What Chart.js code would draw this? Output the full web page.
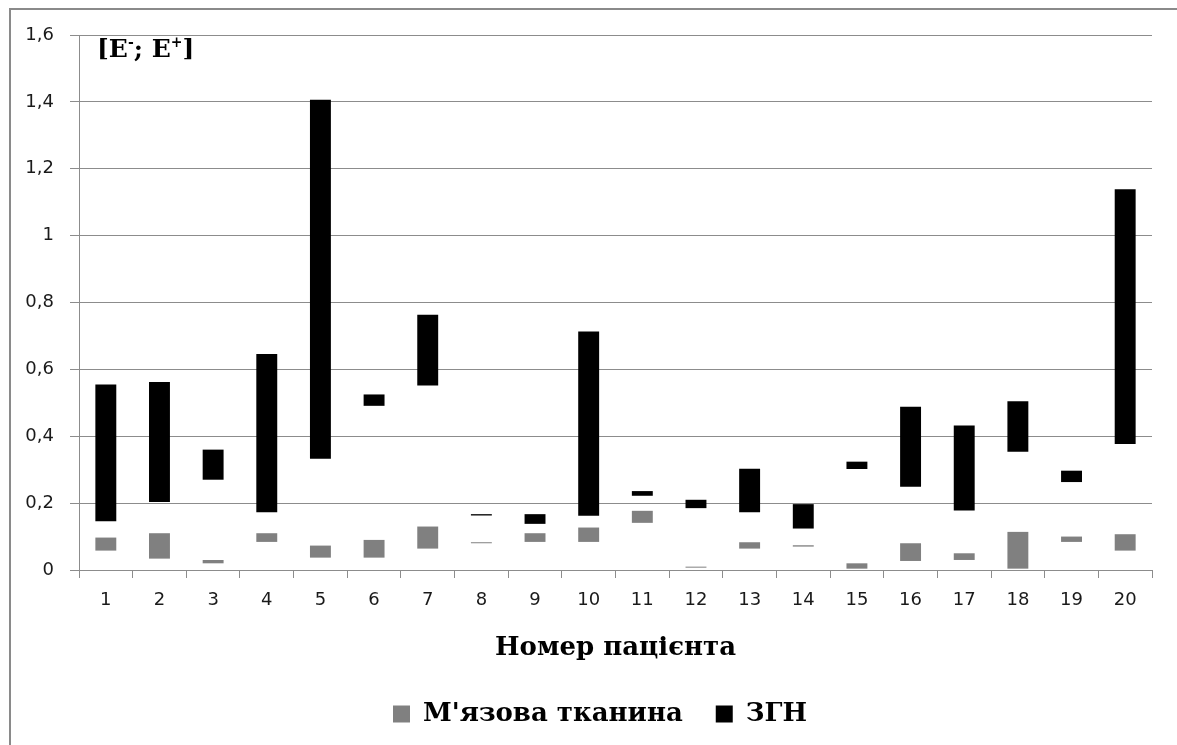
<!DOCTYPE html>
<html>
<head>
<meta charset="utf-8">
<script src="https://cdn.jsdelivr.net/npm/chart.js@4.4.1/dist/chart.umd.min.js"></script>
<style>
  html, body { margin: 0; padding: 0; background: #fff; }
  #wrap { position: relative; width: 1177px; height: 745px; overflow: hidden; }
  #frame { position: absolute; left: 9px; top: 8px; right: -10px; bottom: -10px; border-top: 2px solid #8a8a8a; border-left: 2px solid #8a8a8a; }
  canvas { position: absolute; left: 0; top: 0; }
</style>
</head>
<body>
<div id="wrap">
  <div id="frame"></div>
  <canvas id="chart" width="1177" height="745"></canvas>
</div>
<script>
// patient numbers
const patients = ['1','2','3','4','5','6','7','8','9','10','11','12','13','14','15','16','17','18','19','20'];

// М'язова тканина: [E-; E+]
const muscleLow  = [0.058, 0.034, 0.020, 0.084, 0.037, 0.037, 0.064, 0.080, 0.084, 0.084, 0.141, 0.007, 0.064, 0.070, 0.004, 0.027, 0.030, 0.004, 0.084, 0.058];
const muscleHigh = [0.097, 0.110, 0.030, 0.110, 0.073, 0.090, 0.130, 0.083, 0.110, 0.127, 0.177, 0.010, 0.083, 0.074, 0.020, 0.080, 0.050, 0.114, 0.100, 0.107];

// ЗГН: [E-; E+]
const zgnLow  = [0.146, 0.203, 0.270, 0.173, 0.333, 0.491, 0.552, 0.163, 0.138, 0.162, 0.222, 0.185, 0.173, 0.124, 0.302, 0.249, 0.178, 0.354, 0.263, 0.377];
const zgnHigh = [0.555, 0.562, 0.360, 0.646, 1.406, 0.525, 0.763, 0.167, 0.167, 0.713, 0.236, 0.210, 0.303, 0.197, 0.324, 0.488, 0.432, 0.505, 0.297, 1.139];

const yTicks = ['0', '0,2', '0,4', '0,6', '0,8', '1', '1,2', '1,4', '1,6'];

const GRID = '#8c8c8c';
const TICK_FONT = {family: "'DejaVu Sans', sans-serif", size: 18};
const SERIF_BOLD = {family: "'DejaVu Serif', serif", size: 26, weight: 'bold'};

// "[E-; E+]" label in the top-left corner of the plot
const rangeLabel = {
  id: 'rangeLabel',
  afterDraw(chart) {
    const ctx = chart.ctx;
    const big = "bold 25px 'DejaVu Serif', serif";
    const small = "bold 14px 'DejaVu Serif', serif";
    let x = 97, y = 57;
    ctx.save();
    ctx.fillStyle = '#000';
    ctx.textBaseline = 'alphabetic';
    ctx.textAlign = 'left';
    const parts = [['[E', big, 0], ['-', small, -10], ['; E', big, 0], ['+', small, -10], [']', big, 0]];
    parts.forEach(([t, f, dy]) => {
      ctx.font = f;
      ctx.fillText(t, x, y + dy);
      x += ctx.measureText(t).width;
    });
    ctx.restore();
  }
};

// nudge the legend to where it sits in the original
const legendShift = {
  id: 'legendShift',
  afterLayout(chart) {
    chart.legend.left += 24;
    chart.legend.right += 24;
  }
};

new Chart(document.getElementById('chart'), {
  type: 'bar',
  data: {
    labels: patients,
    datasets: [
      {
        label: "М'язова тканина",
        data: muscleLow.map((v, i) => [v, muscleHigh[i]]),
        backgroundColor: '#808080',
        grouped: false,
        barPercentage: 0.39,
        categoryPercentage: 1
      },
      {
        label: 'ЗГН',
        data: zgnLow.map((v, i) => [v, zgnHigh[i]]),
        backgroundColor: '#000000',
        grouped: false,
        barPercentage: 0.39,
        categoryPercentage: 1
      }
    ]
  },
  options: {
    responsive: false,
    animation: false,
    devicePixelRatio: 1,
    layout: {padding: {left: 0, right: 25, top: 35, bottom: 8}},
    plugins: {
      tooltip: {enabled: false},
      legend: {
        position: 'bottom',
        labels: {
          color: '#000',
          font: SERIF_BOLD,
          boxWidth: 17,
          boxHeight: 17,
          padding: 33
        }
      }
    },
    scales: {
      x: {
        grid: {drawOnChartArea: false, offset: true, color: GRID, tickLength: 8},
        border: {color: GRID},
        ticks: {color: '#1a1a1a', font: TICK_FONT, padding: 12, maxRotation: 0},
        title: {display: true, text: 'Номер пацієнта', color: '#000', font: SERIF_BOLD, padding: {top: 0, bottom: 4}},
        afterFit: s => { s.height = 745 - 570 - 8 - s.chart.legend.height; }
      },
      y: {
        min: 0,
        max: 1.6,
        ticks: {
          stepSize: 0.2,
          color: '#1a1a1a',
          font: TICK_FONT,
          padding: 16,
          callback: (v, i) => yTicks[i]
        },
        grid: {color: GRID, tickLength: 9},
        border: {color: GRID},
        afterFit: s => { s.width = 79; }
      }
    }
  },
  plugins: [rangeLabel, legendShift]
});
</script>
</body>
</html>
